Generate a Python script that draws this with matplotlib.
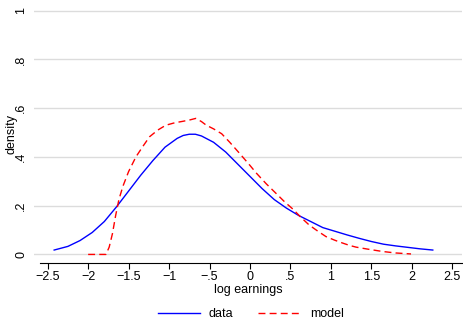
import matplotlib
matplotlib.use("Agg")
import matplotlib.pyplot as plt

plt.rcParams['font.family'] = ['Liberation Sans', 'DejaVu Sans']

# data (kernel density of log earnings)
data_x = [-2.42, -2.25, -2.1, -1.95, -1.8, -1.65, -1.5, -1.35, -1.2, -1.05, -0.9, -0.825, -0.75,
          -0.675, -0.6, -0.45, -0.3, -0.15, 0.0, 0.15, 0.3, 0.45, 0.6, 0.75, 0.9, 1.05, 1.2, 1.35,
          1.5, 1.65, 1.8, 1.95, 2.1, 2.259]
data_y = [0.018, 0.033, 0.057, 0.09, 0.135, 0.195, 0.26, 0.325, 0.385, 0.44, 0.476, 0.488, 0.493,
          0.493, 0.486, 0.46, 0.42, 0.37, 0.32, 0.27, 0.225, 0.19, 0.16, 0.135, 0.11, 0.095, 0.08,
          0.066, 0.053, 0.042, 0.035, 0.029, 0.023, 0.018]

model_x = [-2.0, -1.78, -1.74, -1.7, -1.66, -1.62, -1.57, -1.5, -1.41, -1.32, -1.24, -1.14, -1.04,
           -0.93, -0.83, -0.74, -0.67, -0.6, -0.54, -0.45, -0.35, -0.25, -0.13, 0.0, 0.08, 0.2,
           0.32, 0.43, 0.53, 0.63, 0.73, 0.84, 0.94, 1.05, 1.15, 1.23, 1.31, 1.45, 1.64, 1.8, 1.99]
model_y = [0.0, 0.0, 0.03, 0.085, 0.16, 0.225, 0.28, 0.34, 0.4, 0.445, 0.483, 0.51, 0.53,
           0.54, 0.546, 0.552, 0.558, 0.545, 0.53, 0.515, 0.495, 0.46, 0.415, 0.365, 0.333, 0.29,
           0.251, 0.215, 0.186, 0.152, 0.121, 0.095, 0.073, 0.058, 0.046, 0.037, 0.03, 0.022, 0.012,
           0.006, 0.002]

xticks = [-2.5, -2, -1.5, -1, -0.5, 0, 0.5, 1, 1.5, 2, 2.5]
xticklabels = ['\u22122.5', '\u22122', '\u22121.5', '\u22121', '\u2212.5', '0', '.5', '1', '1.5', '2', '2.5']
yticks = [0, 0.2, 0.4, 0.6, 0.8, 1]
yticklabels = ['0', '.2', '.4', '.6', '.8', '1']

fig = plt.figure(figsize=(4.64, 3.2), dpi=100)
ax = fig.add_axes([0.0733, 0.179, 0.9224, 0.803])

ax.plot(data_x, data_y, color='#0000ff', lw=1.0, label='data')
ax.plot(model_x, model_y, color='#ff0000', lw=1.0, dashes=(5, 3), label='model')

ax.set_xlim(-2.669, 2.62)
ax.set_ylim(-0.034, 1.02)
ax.set_xticks(xticks)
ax.set_xticklabels(xticklabels, fontsize=9)
ax.set_yticks(yticks)
ax.set_yticklabels(yticklabels, fontsize=9, rotation=90, va='center')
ax.grid(axis='y', color='#dcdcdc', lw=1.0)
ax.set_axisbelow(True)
for s in ['top', 'right', 'left']:
    ax.spines[s].set_visible(False)
ax.spines['bottom'].set_bounds(-2.59, 2.62)
ax.spines['bottom'].set_linewidth(0.8)
ax.tick_params(axis='x', length=4, width=0.8, pad=2)
ax.tick_params(axis='y', length=0, pad=5)
ax.set_xlabel('log earnings', fontsize=9, labelpad=1)
ax.set_ylabel('density', fontsize=9)
ax.yaxis.set_label_coords(-0.038, 0.5)

fig.legend(loc='lower center', bbox_to_anchor=(0.54, -0.035), ncol=2, frameon=False, fontsize=9,
           handlelength=3.4, columnspacing=2.0, handletextpad=0.7)

fig.savefig('out.png', dpi=100)
